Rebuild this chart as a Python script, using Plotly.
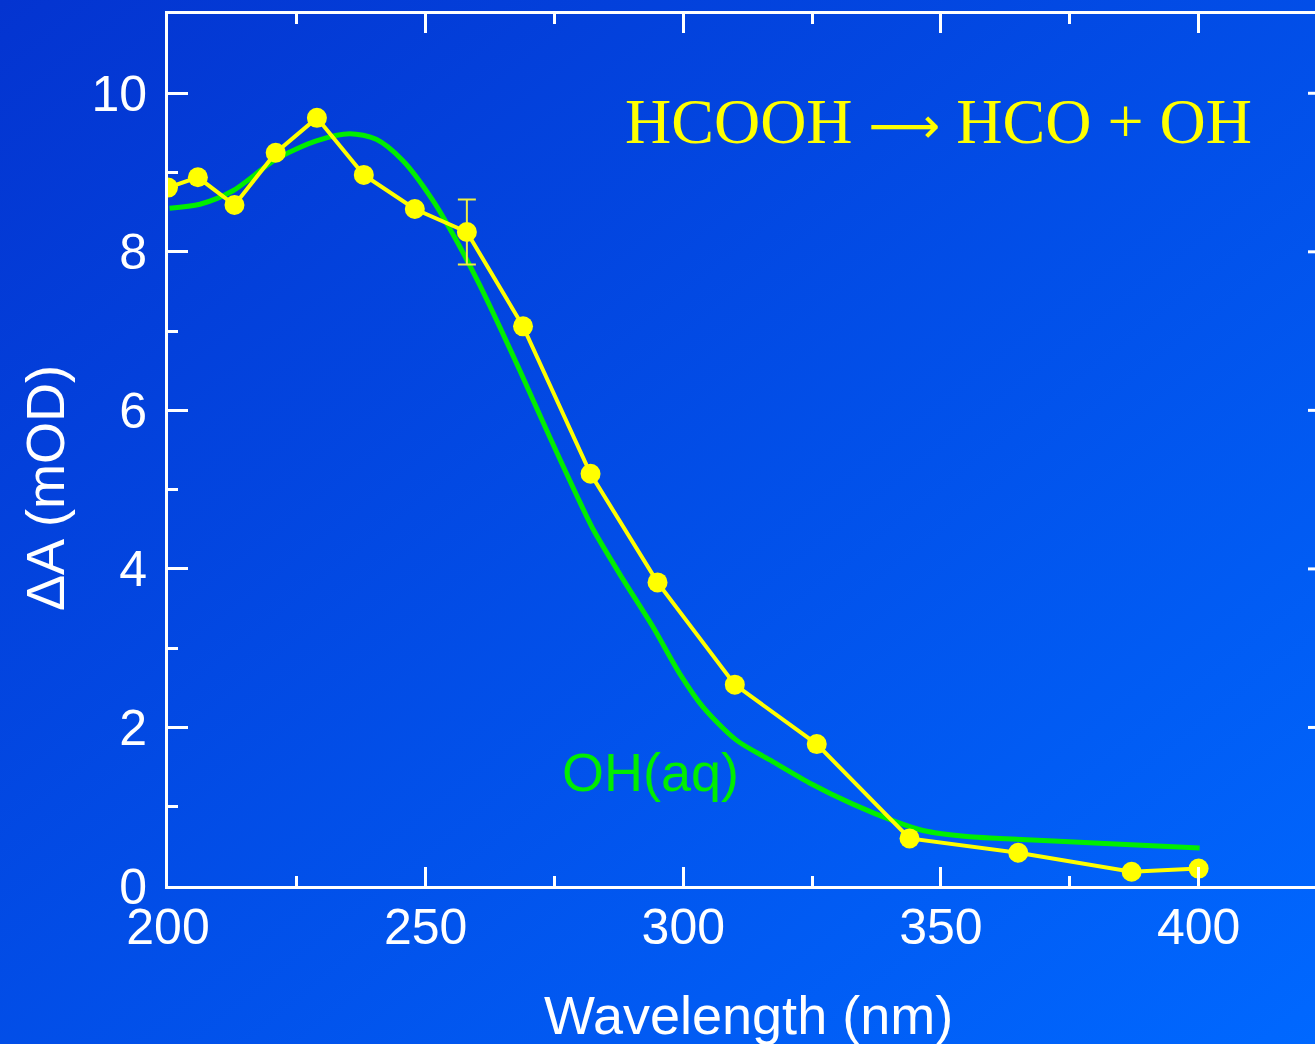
import base64
import plotly.graph_objects as go

# ---- data ----
wl_pts = [200.0, 205.8, 212.9, 220.9, 228.9, 238.0, 247.9, 258.0, 268.9,
          282.0, 295.0, 310.0, 325.9, 343.9, 365.0, 387.0, 400.0]
dA_pts = [8.81, 8.94, 8.59, 9.25, 9.69, 8.97, 8.54, 8.25, 7.06,
          5.20, 3.83, 2.54, 1.79, 0.60, 0.42, 0.18, 0.22]
dA_err = [0, 0, 0, 0, 0, 0, 0, 0.41, 0, 0, 0, 0, 0, 0, 0, 0, 0]

wl_oh = [200.3, 206.2, 212.6, 221.0, 228.8, 235.3, 240.4, 245.6, 251.4, 256.0,
         260.5, 264.4, 268.3, 274.1, 279.3, 282.5, 288.0, 294.1, 299.3, 303.8,
         310.3, 316.8, 324.5, 333.0, 341.3, 346.5, 355.6, 361.4, 380.8, 400.2]
oh_abs = [8.55, 8.60, 8.77, 9.17, 9.40, 9.49, 9.42, 9.15, 8.65, 8.14,
          7.58, 7.05, 6.50, 5.66, 4.93, 4.50, 3.90, 3.27, 2.68, 2.26,
          1.84, 1.59, 1.30, 1.03, 0.81, 0.70, 0.62, 0.60, 0.54, 0.48]

x_ticks = [200, 250, 300, 350, 400]
y_ticks = [0, 2, 4, 6, 8, 10]
right_ticks = [2, 4, 6, 8, 10]

title_text = ("HCOOH <span style='font-family:DejaVu Sans;font-size:50px'>"
              "\u27f6</span> HCO + OH")
oh_label = "OH(aq)"
x_title = "Wavelength (nm)"
y_title = "\u0394A (mOD)"

# ---- layout geometry ----
W, H = 1315, 1044
ML, MR, MT, MB = 168, 0, 14, 158
PW, PH = W - ML - MR, H - MT - MB

SANS = "Liberation Sans, Arial, Helvetica, sans-serif"
SERIF = "Liberation Serif, Times New Roman, serif"
YEL = "#ffff00"
GRN = "#00ee00"

svg = f'''<svg xmlns="http://www.w3.org/2000/svg" width="{W}" height="{H}">
<defs><linearGradient id="g" x1="0" y1="0" x2="1" y2="1">
<stop offset="0" stop-color="#0434d0"/><stop offset="1" stop-color="#0068ff"/>
</linearGradient></defs><rect width="{W}" height="{H}" fill="url(#g)"/></svg>'''
bg_uri = "data:image/svg+xml;base64," + base64.b64encode(svg.encode()).decode()

fig = go.Figure()

fig.add_trace(go.Scatter(
    x=wl_oh, y=oh_abs, mode="lines",
    line=dict(color=GRN, width=5, shape="spline", smoothing=0.8),
    hoverinfo="skip", showlegend=False))

fig.add_trace(go.Scatter(
    x=wl_pts, y=dA_pts, mode="lines+markers",
    line=dict(color=YEL, width=4),
    marker=dict(color=YEL, size=20),
    error_y=dict(type="data", array=dA_err, visible=True,
                 color="#f0f040", thickness=2, width=9),
    showlegend=False))

shapes = []
for v in right_ticks:
    shapes.append(dict(type="line", xref="paper", yref="y",
                       x0=1 - 7 / PW, x1=1, y0=v, y1=v,
                       line=dict(color="white", width=3)))

fig.update_layout(
    width=W, height=H,
    margin=dict(l=ML, r=MR, t=MT, b=MB),
    paper_bgcolor="#0050e8",
    plot_bgcolor="rgba(0,0,0,0)",
    images=[dict(source=bg_uri, xref="paper", yref="paper",
                 x=-ML / PW, y=1 + MT / PH, sizex=W / PW, sizey=H / PH,
                 xanchor="left", yanchor="top", sizing="stretch",
                 layer="below")],
    shapes=shapes,
    xaxis=dict(range=[200, 200 + PW / 5.153], showgrid=False, zeroline=False,
               showline=True, linecolor="white", linewidth=3,
               mirror="ticks",
               ticks="inside", ticklen=19, tickwidth=3, tickcolor="white",
               tickvals=x_ticks, ticktext=[str(v) for v in x_ticks],
               minor=dict(dtick=25, tick0=225, ticks="inside", ticklen=10,
                          tickwidth=3, tickcolor="white", showgrid=False),
               tickfont=dict(family=SANS, size=50, color="white"),
               ticklabelstandoff=-5),
    yaxis=dict(range=[0, 11], showgrid=False, zeroline=False,
               showline=True, linecolor="white", linewidth=3,
               ticks="inside", ticklen=20, tickwidth=3, tickcolor="white",
               tickvals=y_ticks, ticktext=[str(v) for v in y_ticks],
               minor=dict(dtick=2, tick0=1, ticks="inside", ticklen=10,
                          tickwidth=3, tickcolor="white", showgrid=False),
               tickfont=dict(family=SANS, size=50, color="white"),
               ticklabelstandoff=8),
    annotations=[
        dict(text=title_text, x=349.6, y=9.64, xref="x", yref="y",
             showarrow=False, xanchor="center", yanchor="middle",
             font=dict(family=SERIF, size=64, color=YEL)),
        dict(text=oh_label, x=293.7, y=1.44, xref="x", yref="y",
             showarrow=False, xanchor="center", yanchor="middle",
             font=dict(family=SANS, size=54, color=GRN)),
        dict(text=x_title, x=(748 - ML) / PW, y=(MT + PH - 1015) / PH,
             xref="paper", yref="paper", showarrow=False,
             xanchor="center", yanchor="middle",
             font=dict(family=SANS, size=54, color="white")),
        dict(text=y_title, x=(45 - ML) / PW, y=(MT + PH - 488) / PH,
             xref="paper", yref="paper", showarrow=False, textangle=-90,
             xanchor="center", yanchor="middle",
             font=dict(family=SANS, size=54, color="white")),
    ],
)

fig.write_html(
    "out.html",
    config={"displayModeBar": False},
    post_script="document.body.style.margin='0';"
                "document.body.style.overflow='hidden';",
)
